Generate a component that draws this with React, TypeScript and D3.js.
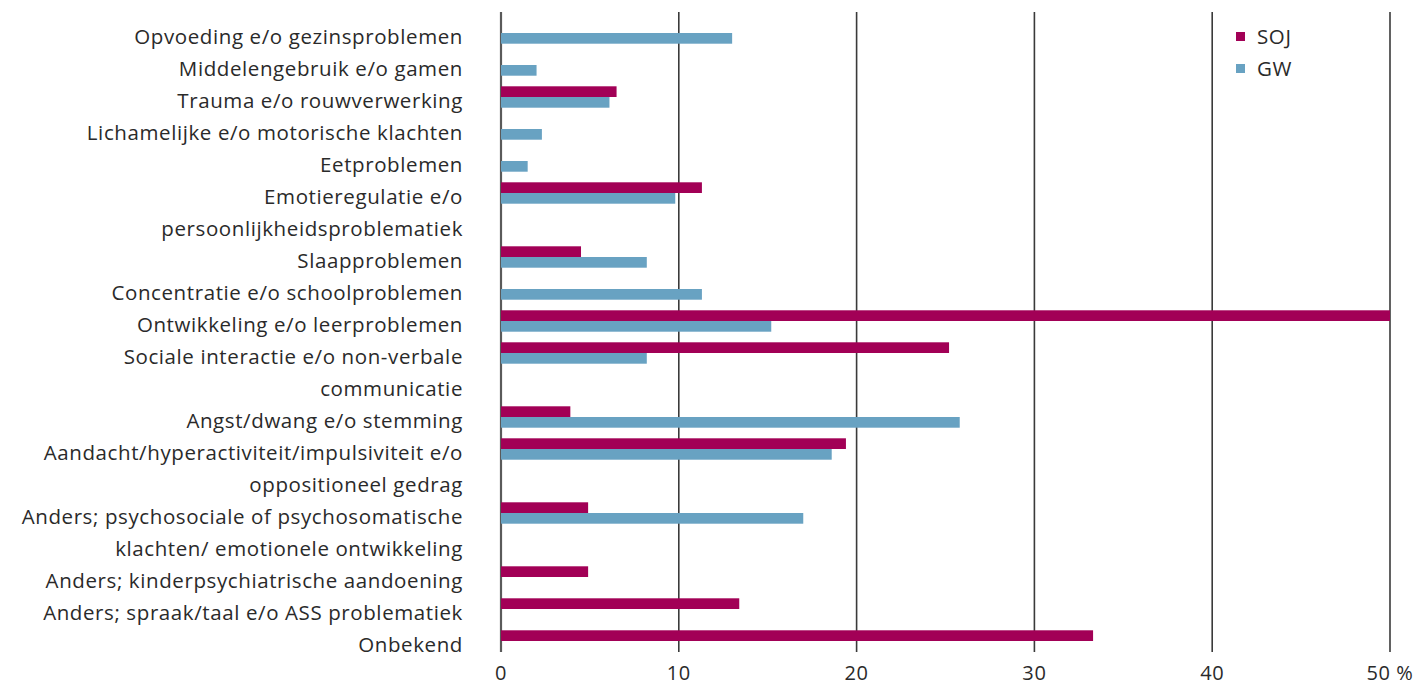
import React, { useEffect, useRef } from 'react';
import * as d3 from 'd3';

// categorieën (meerregelige labels nemen twee rijen in)
const categories: string[][] = [
  ['Opvoeding e/o gezinsproblemen'],
  ['Middelengebruik e/o gamen'],
  ['Trauma e/o rouwverwerking'],
  ['Lichamelijke e/o motorische klachten'],
  ['Eetproblemen'],
  ['Emotieregulatie e/o', 'persoonlijkheidsproblematiek'],
  ['Slaapproblemen'],
  ['Concentratie e/o schoolproblemen'],
  ['Ontwikkeling e/o leerproblemen'],
  ['Sociale interactie e/o non-verbale', 'communicatie'],
  ['Angst/dwang e/o stemming'],
  ['Aandacht/hyperactiviteit/impulsiviteit e/o', 'oppositioneel gedrag'],
  ['Anders; psychosociale of psychosomatische', 'klachten/ emotionele ontwikkeling'],
  ['Anders; kinderpsychiatrische aandoening'],
  ['Anders; spraak/taal e/o ASS problematiek'],
  ['Onbekend'],
];

const sojValues: (number | null)[] = [null, null, 6.5, null, null, 11.3, 4.5, null, 50, 25.2, 3.9, 19.4, 4.9, 4.9, 13.4, 33.3];
const gwValues: (number | null)[] = [13.0, 2.0, 6.1, 2.3, 1.5, 9.8, 8.2, 11.3, 15.2, 8.2, 25.8, 18.6, 17.0, null, null, null];

const xTicks = [0, 10, 20, 30, 40, 50];
const xTickLabels = ['0', '10', '20', '30', '40', '50 %'];
const seriesNames = ['SOJ', 'GW'];
const seriesColors = ['#a20056', '#68a2c2'];

const width = 1427;
const height = 686;
const FONT = '"Open Sans", sans-serif';

const App: React.FC = () => {
  const svgRef = useRef<SVGSVGElement>(null);

  useEffect(() => {
    if (!svgRef.current) return;
    const svg = d3.select(svgRef.current);
    svg.selectAll('*').remove();

    const plotTop = 12;
    const plotBottom = 652;

    // rij-index per categorie
    const slotStart: number[] = [];
    let s = 0;
    categories.forEach(c => { slotStart.push(s); s += c.length; });
    const totalSlots = s;

    const x = d3.scaleLinear().domain([0, 50]).range([501, 1390]);
    const y = d3.scaleBand<number>()
      .domain(d3.range(totalSlots))
      .range([plotTop + 5, plotBottom + 5])
      .padding(0);
    const barH = 10.7;
    const center = (i: number) => y(slotStart[i])! + y.bandwidth() / 2;

    // rasterlijnen
    svg.append('g').selectAll('line')
      .data(xTicks)
      .enter().append('line')
      .attr('x1', d => x(d)).attr('x2', d => x(d))
      .attr('y1', plotTop).attr('y2', plotBottom)
      .attr('stroke', d => d === 0 ? '#5a5a5a' : '#3a3a3a')
      .attr('stroke-width', d => d === 0 ? 2.2 : 1.6);

    // balken
    const bars = svg.append('g');
    [sojValues, gwValues].forEach((vals, si) => {
      bars.append('g').selectAll('rect')
        .data(vals.map((v, i) => ({ v, i })).filter(d => d.v != null))
        .enter().append('rect')
        .attr('x', x(0))
        .attr('y', d => si === 0 ? center(d.i) - barH : center(d.i))
        .attr('width', d => x(d.v as number) - x(0))
        .attr('height', barH)
        .attr('fill', seriesColors[si]);
    });

    // categorie labels
    const labels = svg.append('g')
      .attr('font-family', FONT)
      .attr('font-size', 20.5)
      .attr('letter-spacing', 0.6)
      .attr('fill', '#2a2a2a')
      .attr('text-anchor', 'end');
    categories.forEach((lines, i) => {
      lines.forEach((line, j) => {
        labels.append('text')
          .attr('x', 463)
          .attr('y', center(i) + j * y.bandwidth() + 11)
          .text(line);
      });
    });

    // x-as labels
    const tickG = svg.append('g')
      .attr('font-family', FONT)
      .attr('font-size', 20)
      .attr('letter-spacing', 0.6)
      .attr('fill', '#2a2a2a');
    xTicks.forEach((t, i) => {
      tickG.append('text')
        .attr('x', x(t))
        .attr('y', 680)
        .attr('text-anchor', 'middle')
        .text(xTickLabels[i]);
    });

    // legenda
    const legend = svg.append('g')
      .attr('font-family', FONT)
      .attr('font-size', 20.5)
      .attr('letter-spacing', 0.6)
      .attr('fill', '#2a2a2a');
    seriesNames.forEach((name, i) => {
      legend.append('rect')
        .attr('x', 1236).attr('y', 32 + i * 32)
        .attr('width', 9).attr('height', 9)
        .attr('fill', seriesColors[i]);
      legend.append('text')
        .attr('x', 1257).attr('y', 43.5 + i * 32)
        .text(name);
    });
  }, []);

  return (
    <svg
      ref={svgRef}
      width={width}
      height={height}
      viewBox={`0 0 ${width} ${height}`}
      style={{ position: 'absolute', left: 0, top: 0, background: '#fff', display: 'block' }}
    />
  );
};

export default App;
